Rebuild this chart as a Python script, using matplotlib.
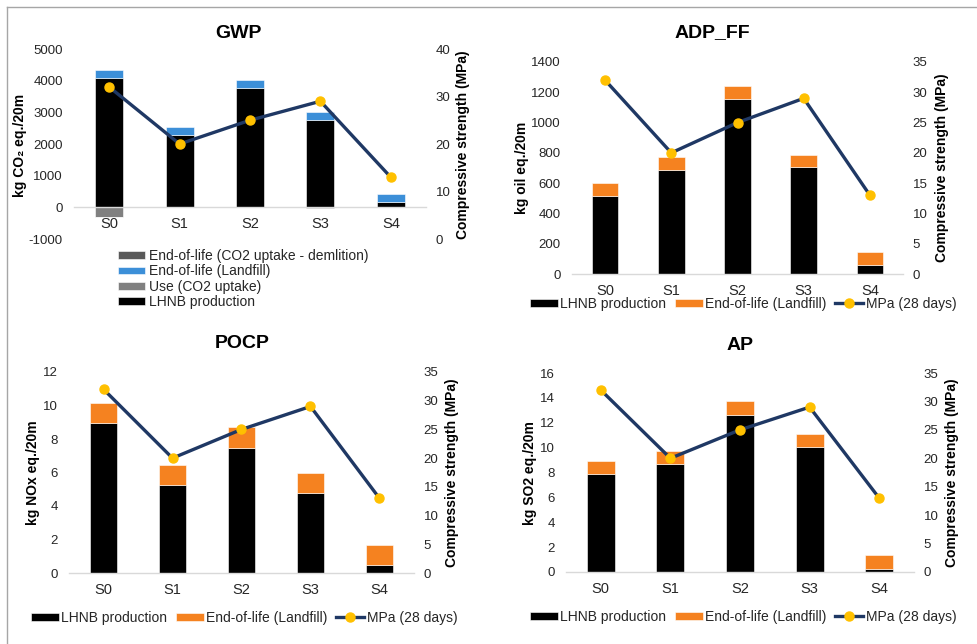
import matplotlib
matplotlib.use("Agg")
import matplotlib.pyplot as plt
from matplotlib.lines import Line2D
import numpy as np

plt.rcParams['font.family'] = ['Liberation Sans', 'DejaVu Sans']
plt.rcParams['axes.unicode_minus'] = False

scenarios = ["S0", "S1", "S2", "S3", "S4"]
mpa_28d = [32, 20, 25, 29, 13]

# GWP (kg CO2 eq./20m)
gwp_lhnb = [4070, 2280, 3780, 2760, 170]
gwp_use = [-300, 0, 0, 0, 0]
gwp_landfill = [255, 265, 255, 265, 265]
gwp_demolition = [0, 0, 0, -20, 0]

# ADP_FF (kg oil eq./20m)
adp_lhnb = [516, 688, 1158, 705, 62]
adp_landfill = [84, 83, 84, 84, 83]

# POCP (kg NOx eq./20m)
pocp_lhnb = [8.95, 5.26, 7.49, 4.76, 0.48]
pocp_landfill = [1.2, 1.2, 1.2, 1.2, 1.2]

# AP (kg SO2 eq./20m)
ap_lhnb = [7.85, 8.66, 12.65, 10.03, 0.27]
ap_landfill = [1.05, 1.05, 1.12, 1.05, 1.07]

W, H = 977, 644
fig = plt.figure(figsize=(W / 100, H / 100), dpi=100)

BLACK = "#000000"
BLUE = "#3C8FD8"
ORANGE = "#F58220"
GRAY_USE = "#808080"
GRAY_DEM = "#595959"
NAVY = "#1F3864"
GOLD = "#FFC000"
AXC = "#D9D9D9"
TXT = "#262626"


def px_axes(L, R, T, B):
    return fig.add_axes([L / W, 1 - B / H, (R - L) / W, (B - T) / H])


def style(ax, ax2):
    for s in ["top", "left", "right"]:
        ax.spines[s].set_visible(False)
        ax2.spines[s].set_visible(False)
    ax2.spines["bottom"].set_visible(False)
    ax.spines["bottom"].set_color(AXC)
    ax.spines["bottom"].set_linewidth(1.0)
    ax.tick_params(axis="y", length=0, pad=8, labelsize=9.5, labelcolor=TXT)
    ax.tick_params(axis="x", length=0, pad=7, labelsize=10.5, labelcolor=TXT)
    ax2.tick_params(axis="y", length=0, pad=7, labelsize=9.5, labelcolor=TXT)
    ax.set_xlim(-0.5, 4.5)


def ftext(x, y, s, **kw):
    fig.text(x / W, 1 - y / H, s, ha="center", va="center", **kw)


x = np.arange(len(scenarios))
bw = 0.4
ekw = dict(edgecolor="white", linewidth=0.4)


def line(ax2):
    return ax2.plot(x, mpa_28d, color=NAVY, lw=2.4, marker="o", markersize=6.5,
                    markerfacecolor=GOLD, markeredgecolor=GOLD, zorder=5,
                    label="MPa (28 days)")[0]


# ---------------- GWP ----------------
ax = px_axes(74, 426, 49, 239)
ax2 = ax.twinx()
b_lhnb = ax.bar(x, gwp_lhnb, bw, color=BLACK, label="LHNB production", **ekw)
b_use = ax.bar(x, gwp_use, bw, color=GRAY_USE, label="Use (CO2 uptake)", **ekw)
b_land = ax.bar(x, gwp_landfill, bw, bottom=gwp_lhnb, color=BLUE,
                label="End-of-life (Landfill)", **ekw)
b_dem = ax.bar(x, gwp_demolition, bw, bottom=gwp_use, color=GRAY_DEM,
               label="End-of-life (CO2 uptake - demlition)", **ekw)
ax.set_ylim(-1000, 5000)
ax.set_yticks(np.arange(-1000, 5001, 1000))
ax.set_xticks(x, scenarios)
ax.spines["bottom"].set_position(("data", 0))
ax2.set_ylim(0, 40)
ax2.set_yticks(np.arange(0, 41, 10))
line(ax2)
style(ax, ax2)
ftext(238, 33, "GWP", fontsize=14, fontweight="bold")
ftext(20, 145, "kg CO\u2082 eq./20m", fontsize=10, fontweight="bold", rotation=90)
ftext(463, 145, "Compressive strength (MPa)", fontsize=10, fontweight="bold", rotation=90)
fig.legend(handles=[b_dem, b_land, b_use, b_lhnb], loc="center",
           bbox_to_anchor=(243 / W, 1 - 279 / H), ncol=1, frameon=False,
           fontsize=10, handlelength=2.0, handleheight=0.5, handletextpad=0.25,
           labelspacing=0.08, borderpad=0, labelcolor=TXT)


def panel(L, R, T, B, lhnb, landfill, ymax, ystep, title, tpos, ylab, lpos, rpos, legpos):
    ax = px_axes(L, R, T, B)
    ax2 = ax.twinx()
    b1 = ax.bar(x, lhnb, bw, color=BLACK, label="LHNB production", **ekw)
    b2 = ax.bar(x, landfill, bw, bottom=lhnb, color=ORANGE,
                label="End-of-life (Landfill)", **ekw)
    ax.set_ylim(0, ymax)
    ax.set_yticks(np.arange(0, ymax + ystep / 2, ystep))
    ax.set_xticks(x, scenarios)
    ax2.set_ylim(0, 35)
    ax2.set_yticks(np.arange(0, 36, 5))
    ln = line(ax2)
    style(ax, ax2)
    ftext(tpos[0], tpos[1], title, fontsize=14, fontweight="bold")
    ftext(lpos[0], lpos[1], ylab, fontsize=10, fontweight="bold", rotation=90)
    ftext(rpos[0], rpos[1], "Compressive strength (MPa)", fontsize=10,
          fontweight="bold", rotation=90)
    fig.legend(handles=[b1, b2, ln], loc="center",
               bbox_to_anchor=(legpos[0] / W, 1 - legpos[1] / H), ncol=3,
               frameon=False, fontsize=10, handlelength=2.0, handleheight=0.55,
               handletextpad=0.2, columnspacing=0.6, borderpad=0, labelcolor=TXT)


panel(572, 903, 62, 274, adp_lhnb, adp_landfill, 1400, 200, "ADP_FF", (712, 33),
      "kg oil eq./20m", (522, 168), (942, 168), (743, 304))
panel(69, 414, 372, 573, pocp_lhnb, pocp_landfill, 12, 2, "POCP", (242, 344),
      "kg NOx eq./20m", (33, 473), (452, 473), (244, 618))
panel(566, 914, 373, 572, ap_lhnb, ap_landfill, 16, 2, "AP", (740, 345),
      "kg SO2 eq./20m", (530, 473), (952, 473), (743, 617))

# figure border (top and left)
fig.add_artist(Line2D([7 / W, 1], [1 - 7 / H, 1 - 7 / H], color="#A6A6A6", lw=1.0,
                      transform=fig.transFigure))
fig.add_artist(Line2D([7 / W, 7 / W], [0, 1 - 7 / H], color="#A6A6A6", lw=1.0,
                      transform=fig.transFigure))

fig.savefig("out.png", dpi=100)
